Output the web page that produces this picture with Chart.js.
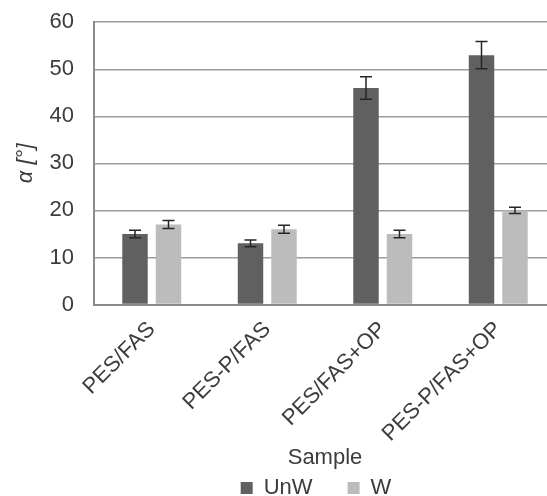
<!DOCTYPE html>
<html>
<head>
<meta charset="utf-8">
<script src="https://cdn.jsdelivr.net/npm/chart.js@4/dist/chart.umd.min.js"></script>
<style>
  html, body { margin: 0; padding: 0; background: #ffffff; overflow: hidden; width: 547px; height: 496px; }
  #wrap { position: absolute; left: 0; top: -11px; width: 560px; height: 520px; }
</style>
</head>
<body>
<div id="wrap"><canvas id="c"></canvas></div>
<script>
const categories = ['PES/FAS', 'PES-P/FAS', 'PES/FAS+OP', 'PES-P/FAS+OP'];
const unwValues = [15, 13, 46, 53];
const unwErrors = [0.8, 0.7, 2.4, 2.9];
const wValues = [17, 16, 15, 20];
const wErrors = [0.85, 0.85, 0.8, 0.65];
const yTicks = [0, 10, 20, 30, 40, 50, 60];

const FONT = "'Liberation Sans', Arial, sans-serif";
const TXT = '#3c3c3c';

const errorBars = {
  id: 'errorBars',
  afterDatasetsDraw(chart) {
    const ctx = chart.ctx;
    const y = chart.scales.y;
    ctx.save();
    ctx.strokeStyle = '#262626';
    ctx.lineWidth = 1.5;
    chart.data.datasets.forEach((ds, di) => {
      const meta = chart.getDatasetMeta(di);
      meta.data.forEach((bar, i) => {
        const v = ds.data[i], e = ds.errors[i];
        const top = y.getPixelForValue(v + e);
        const bot = y.getPixelForValue(v - e);
        const x = bar.x, cap = 6;
        ctx.beginPath();
        ctx.moveTo(x, top); ctx.lineTo(x, bot);
        ctx.moveTo(x - cap, top); ctx.lineTo(x + cap, top);
        ctx.moveTo(x - cap, bot); ctx.lineTo(x + cap, bot);
        ctx.stroke();
      });
    });
    ctx.restore();
  }
};

const legendShift = {
  id: 'legendShift',
  afterLayout(chart) {
    if (chart.legend) { chart.legend.left -= 9; chart.legend.right -= 9; }
  }
};

new Chart(document.getElementById('c'), {
  type: 'bar',
  data: {
    labels: categories,
    datasets: [
      { label: 'UnW', data: unwValues, errors: unwErrors, backgroundColor: '#606060', barPercentage: 0.76, categoryPercentage: 0.58 },
      { label: 'W', data: wValues, errors: wErrors, backgroundColor: '#bcbcbc', barPercentage: 0.76, categoryPercentage: 0.58 }
    ]
  },
  plugins: [errorBars, legendShift],
  options: {
    responsive: true,
    maintainAspectRatio: false,
    animation: false,
    layout: { padding: { top: 0, right: 4, bottom: 0, left: 0 } },
    plugins: {
      tooltip: { enabled: false },
      legend: {
        position: 'bottom',
        fullSize: false,
        labels: {
          font: { family: FONT, size: 22 },
          color: TXT,
          boxWidth: 12,
          boxHeight: 12,
          padding: 35
        }
      }
    },
    scales: {
      x: {
        grid: { display: false },
        border: { display: true, color: '#8a8a8a', width: 2 },
        ticks: {
          font: { family: FONT, size: 22 },
          color: TXT,
          minRotation: 45,
          maxRotation: 45,
          padding: 4
        },
        title: {
          display: true,
          text: 'Sample',
          font: { family: FONT, size: 22 },
          color: TXT,
          padding: { top: -29, bottom: -29 }
        },
        afterFit(s) { s.height = 137.5; }
      },
      y: {
        min: 0,
        max: 60,
        afterBuildTicks(s) { s.ticks = yTicks.map(v => ({ value: v })); },
        grid: { color: '#9c9c9c', lineWidth: 1.5, drawTicks: false },
        border: { display: true, color: '#8a8a8a', width: 2 },
        ticks: {
          font: { family: FONT, size: 22 },
          color: TXT,
          padding: 20
        },
        title: {
          display: true,
          text: 'α [°]',
          font: { family: FONT, size: 22, style: 'italic' },
          color: TXT,
          padding: { top: 13, bottom: 0 }
        },
        afterFit(s) { s.width = 94; }
      }
    }
  }
});
</script>
</body>
</html>
